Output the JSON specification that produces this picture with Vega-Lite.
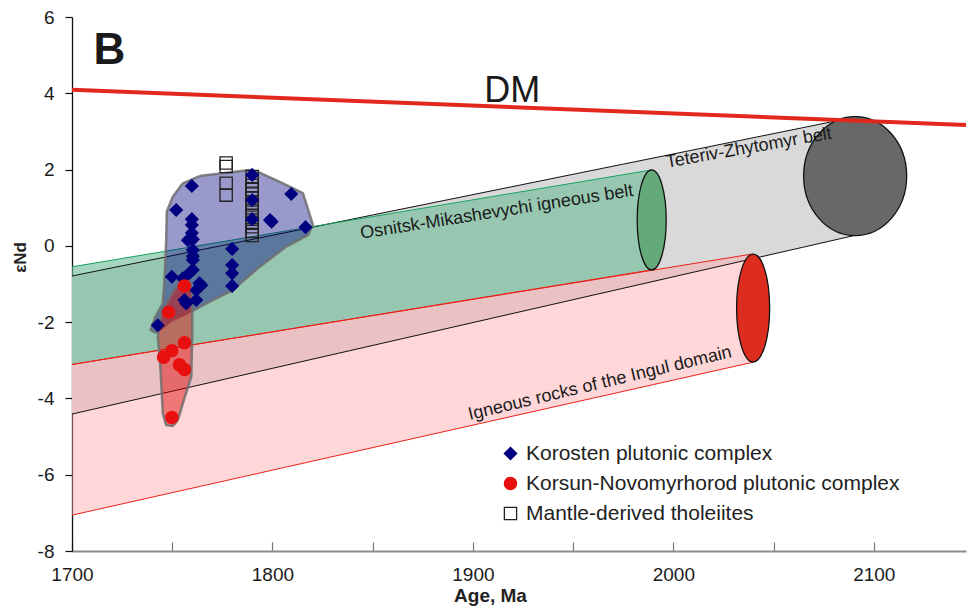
{
  "$schema": "https://vega.github.io/schema/vega-lite/v6.json",
  "width": 894,
  "height": 534,
  "autosize": {"type": "none"},
  "padding": {"left": 72, "top": 17, "right": 1, "bottom": 58},
  "background": "white",
  "config": {"view": {"stroke": null}, "font": "Liberation Sans"},
  "datasets": {
    "bands": [
      {"band": "Teteriv-Zhytomyr", "x": 1700, "top": -0.79, "bottom": -4.41},
      {"band": "Teteriv-Zhytomyr", "x": 2091, "top": 3.38, "bottom": 0.28},
      {"band": "Osnitsk-Mikashevychi", "x": 1700, "top": -0.55, "bottom": -3.11},
      {"band": "Osnitsk-Mikashevychi", "x": 1989.2, "top": 1.99, "bottom": -0.63},
      {"band": "Ingul", "x": 1700, "top": -3.11, "bottom": -7.06},
      {"band": "Ingul", "x": 2039.8, "top": -0.21, "bottom": -3.05}
    ],
    "ellipses": [
      {"name": "Osnitsk-Mikashevychi", "x": 1989.2, "y": 0.68},
      {"name": "Ingul", "x": 2039.8, "y": -1.63},
      {"name": "Teteriv-Zhytomyr", "x": 2090.7, "y": 1.83}
    ],
    "dm": [
      {"x": 1700, "y": 4.09},
      {"x": 2146, "y": 3.17}
    ],
    "hulls": [
      {"group": "Korosten", "i": 0, "x": 1763.6, "y": 1.83},
      {"group": "Korosten", "i": 1, "x": 1788.6, "y": 1.99},
      {"group": "Korosten", "i": 2, "x": 1793.6, "y": 1.92},
      {"group": "Korosten", "i": 3, "x": 1805.2, "y": 1.64},
      {"group": "Korosten", "i": 4, "x": 1815.2, "y": 1.38},
      {"group": "Korosten", "i": 5, "x": 1820.2, "y": 0.55},
      {"group": "Korosten", "i": 6, "x": 1817.7, "y": 0.28},
      {"group": "Korosten", "i": 7, "x": 1806.9, "y": -0.02},
      {"group": "Korosten", "i": 8, "x": 1792.7, "y": -0.59},
      {"group": "Korosten", "i": 9, "x": 1780.2, "y": -1.16},
      {"group": "Korosten", "i": 10, "x": 1770.3, "y": -1.42},
      {"group": "Korosten", "i": 11, "x": 1761.1, "y": -1.68},
      {"group": "Korosten", "i": 12, "x": 1750.3, "y": -1.94},
      {"group": "Korosten", "i": 13, "x": 1742.0, "y": -2.28},
      {"group": "Korosten", "i": 14, "x": 1739.2, "y": -2.21},
      {"group": "Korosten", "i": 15, "x": 1741.2, "y": -1.9},
      {"group": "Korosten", "i": 16, "x": 1745.3, "y": -1.51},
      {"group": "Korosten", "i": 17, "x": 1746.2, "y": -0.81},
      {"group": "Korosten", "i": 18, "x": 1747.0, "y": 0.15},
      {"group": "Korosten", "i": 19, "x": 1747.3, "y": 0.9},
      {"group": "Korosten", "i": 20, "x": 1750.3, "y": 1.29},
      {"group": "Korosten", "i": 21, "x": 1755.3, "y": 1.64},
      {"group": "Korosten", "i": 22, "x": 1763.6, "y": 1.83},
      {"group": "Korsun", "i": 0, "x": 1755.3, "y": -0.85},
      {"group": "Korsun", "i": 1, "x": 1758.6, "y": -0.94},
      {"group": "Korsun", "i": 2, "x": 1760.0, "y": -1.16},
      {"group": "Korsun", "i": 3, "x": 1760.0, "y": -2.38},
      {"group": "Korsun", "i": 4, "x": 1759.5, "y": -3.43},
      {"group": "Korsun", "i": 5, "x": 1755.3, "y": -4.13},
      {"group": "Korsun", "i": 6, "x": 1752.8, "y": -4.57},
      {"group": "Korsun", "i": 7, "x": 1750.3, "y": -4.72},
      {"group": "Korsun", "i": 8, "x": 1747.0, "y": -4.7},
      {"group": "Korsun", "i": 9, "x": 1745.3, "y": -4.39},
      {"group": "Korsun", "i": 10, "x": 1744.0, "y": -3.08},
      {"group": "Korsun", "i": 11, "x": 1742.8, "y": -2.38},
      {"group": "Korsun", "i": 12, "x": 1744.5, "y": -1.77},
      {"group": "Korsun", "i": 13, "x": 1750.3, "y": -1.2},
      {"group": "Korsun", "i": 14, "x": 1755.3, "y": -0.85}
    ],
    "samples": [
      {"series": "Mantle-derived tholeiites", "x": 1776.9, "y": 2.17},
      {"series": "Mantle-derived tholeiites", "x": 1776.9, "y": 2.08},
      {"series": "Mantle-derived tholeiites", "x": 1776.9, "y": 1.64},
      {"series": "Mantle-derived tholeiites", "x": 1776.9, "y": 1.33},
      {"series": "Mantle-derived tholeiites", "x": 1789.9, "y": 1.82},
      {"series": "Mantle-derived tholeiites", "x": 1789.9, "y": 1.7},
      {"series": "Mantle-derived tholeiites", "x": 1789.9, "y": 1.58},
      {"series": "Mantle-derived tholeiites", "x": 1789.9, "y": 1.48},
      {"series": "Mantle-derived tholeiites", "x": 1789.9, "y": 1.36},
      {"series": "Mantle-derived tholeiites", "x": 1789.9, "y": 1.25},
      {"series": "Mantle-derived tholeiites", "x": 1789.9, "y": 1.12},
      {"series": "Mantle-derived tholeiites", "x": 1789.9, "y": 1.0},
      {"series": "Mantle-derived tholeiites", "x": 1789.9, "y": 0.88},
      {"series": "Mantle-derived tholeiites", "x": 1789.9, "y": 0.75},
      {"series": "Mantle-derived tholeiites", "x": 1789.9, "y": 0.62},
      {"series": "Mantle-derived tholeiites", "x": 1789.9, "y": 0.5},
      {"series": "Mantle-derived tholeiites", "x": 1789.9, "y": 0.38},
      {"series": "Mantle-derived tholeiites", "x": 1789.9, "y": 0.27},
      {"series": "Korosten plutonic complex", "x": 1759.8, "y": 1.57},
      {"series": "Korosten plutonic complex", "x": 1752.0, "y": 0.94},
      {"series": "Korosten plutonic complex", "x": 1759.8, "y": 0.7},
      {"series": "Korosten plutonic complex", "x": 1759.8, "y": 0.55},
      {"series": "Korosten plutonic complex", "x": 1759.8, "y": 0.34},
      {"series": "Korosten plutonic complex", "x": 1757.8, "y": 0.15},
      {"series": "Korosten plutonic complex", "x": 1760.3, "y": 0.17},
      {"series": "Korosten plutonic complex", "x": 1760.3, "y": -0.11},
      {"series": "Korosten plutonic complex", "x": 1760.3, "y": -0.27},
      {"series": "Korosten plutonic complex", "x": 1760.3, "y": -0.37},
      {"series": "Korosten plutonic complex", "x": 1760.3, "y": -0.63},
      {"series": "Korosten plutonic complex", "x": 1758.6, "y": -0.71},
      {"series": "Korosten plutonic complex", "x": 1749.8, "y": -0.81},
      {"series": "Korosten plutonic complex", "x": 1755.3, "y": -0.85},
      {"series": "Korosten plutonic complex", "x": 1763.6, "y": -0.98},
      {"series": "Korosten plutonic complex", "x": 1764.5, "y": -1.03},
      {"series": "Korosten plutonic complex", "x": 1762.0, "y": -1.16},
      {"series": "Korosten plutonic complex", "x": 1762.0, "y": -1.42},
      {"series": "Korosten plutonic complex", "x": 1756.1, "y": -1.42},
      {"series": "Korosten plutonic complex", "x": 1757.0, "y": -1.51},
      {"series": "Korosten plutonic complex", "x": 1742.8, "y": -2.08},
      {"series": "Korosten plutonic complex", "x": 1779.9, "y": -0.08},
      {"series": "Korosten plutonic complex", "x": 1779.9, "y": -0.5},
      {"series": "Korosten plutonic complex", "x": 1779.9, "y": -0.72},
      {"series": "Korosten plutonic complex", "x": 1779.9, "y": -1.05},
      {"series": "Korosten plutonic complex", "x": 1789.9, "y": 1.86},
      {"series": "Korosten plutonic complex", "x": 1789.9, "y": 1.2},
      {"series": "Korosten plutonic complex", "x": 1789.9, "y": 0.7},
      {"series": "Korosten plutonic complex", "x": 1799.6, "y": 0.63},
      {"series": "Korosten plutonic complex", "x": 1798.8, "y": 0.68},
      {"series": "Korosten plutonic complex", "x": 1809.4, "y": 1.36},
      {"series": "Korosten plutonic complex", "x": 1816.5, "y": 0.49},
      {"series": "Korsun-Novomyrhorod plutonic complex", "x": 1756.1, "y": -1.05},
      {"series": "Korsun-Novomyrhorod plutonic complex", "x": 1748.2, "y": -1.74},
      {"series": "Korsun-Novomyrhorod plutonic complex", "x": 1756.1, "y": -2.54},
      {"series": "Korsun-Novomyrhorod plutonic complex", "x": 1749.8, "y": -2.75},
      {"series": "Korsun-Novomyrhorod plutonic complex", "x": 1745.7, "y": -2.92},
      {"series": "Korsun-Novomyrhorod plutonic complex", "x": 1753.6, "y": -3.12},
      {"series": "Korsun-Novomyrhorod plutonic complex", "x": 1756.1, "y": -3.24},
      {"series": "Korsun-Novomyrhorod plutonic complex", "x": 1749.8, "y": -4.5}
    ],
    "labels": [
      {"label": "B", "x": 1710.7, "y": 4.77},
      {"label": "DM", "x": 1919.6, "y": 3.77},
      {"label": "Osnitsk-Mikashevychi igneous belt", "x": 1912.3, "y": 0.75},
      {"label": "Teteriv-Zhytomyr belt", "x": 2038.1, "y": 2.43},
      {"label": "Igneous rocks of the Ingul domain", "x": 1964, "y": -3.74}
    ]
  },
  "layer": [
    {
      "data": {"name": "bands"},
      "transform": [{"filter": "datum.band === 'Teteriv-Zhytomyr'"}],
      "mark": {"type": "area", "color": "#d9d9d9", "opacity": 1},
      "encoding": {
        "x": {"field": "x", "type": "quantitative", "scale": {"domain": [1700, 2146], "nice": false, "zero": false},
          "axis": {"title": "Age, Ma", "titleFontSize": 19, "titleFontWeight": "bold", "titleColor": "#222", "titleX": 418, "titleY": 50, "titleBaseline": "alphabetic", "titleAlign": "center",
            "values": [1700, 1750, 1800, 1850, 1900, 1950, 2000, 2050, 2100],
            "labelExpr": "datum.value % 100 === 0 ? '' + datum.value : ''",
            "labelFontSize": 19, "labelColor": "#1a1a1a", "labelPadding": 23, "labelFlush": false, "labelOverlap": false,
            "tickSize": -9, "tickColor": "#777", "tickWidth": 1.2, "domainColor": "#8c8c8c", "domainWidth": 2, "grid": false}},
        "y": {"field": "top", "type": "quantitative", "scale": {"domain": [-8, 6], "nice": false, "zero": false},
          "axis": {"title": "εNd", "titleFontSize": 17, "titleFontWeight": "bold", "titleColor": "#222", "titleX": -47, "titleY": 240, "titleAngle": 270, "titleBaseline": "alphabetic", "titleAlign": "center",
            "values": [-8, -6, -4, -2, 0, 2, 4, 6], "labelExpr": "'' + datum.value",
            "labelFontSize": 19, "labelColor": "#1a1a1a", "labelPadding": 11, "labelFlush": false, "labelOverlap": false,
            "tickSize": 7, "tickColor": "#111", "tickWidth": 1.2, "domainColor": "#111", "domainWidth": 1.3, "grid": false}},
        "y2": {"field": "bottom"}
      }
    },
    {
      "data": {"name": "bands"},
      "transform": [{"filter": "datum.band === 'Osnitsk-Mikashevychi'"}],
      "mark": {"type": "area", "color": "#6dbb96", "fillOpacity": 0.6},
      "encoding": {
        "x": {"field": "x", "type": "quantitative", "scale": {"domain": [1700, 2146], "nice": false, "zero": false}},
        "y": {"field": "top", "type": "quantitative", "scale": {"domain": [-8, 6], "nice": false, "zero": false}},
        "y2": {"field": "bottom"}
      }
    },
    {
      "data": {"name": "bands"},
      "transform": [{"filter": "datum.band === 'Ingul'"}],
      "mark": {"type": "area", "color": "#ffa7a9", "fillOpacity": 0.45},
      "encoding": {
        "x": {"field": "x", "type": "quantitative", "scale": {"domain": [1700, 2146], "nice": false, "zero": false}},
        "y": {"field": "top", "type": "quantitative", "scale": {"domain": [-8, 6], "nice": false, "zero": false}},
        "y2": {"field": "bottom"}
      }
    },
    {
      "data": {"name": "bands"},
      "transform": [{"filter": "datum.band === 'Teteriv-Zhytomyr'"}],
      "mark": {"type": "line", "color": "#111", "strokeWidth": 1},
      "encoding": {
        "x": {"field": "x", "type": "quantitative", "scale": {"domain": [1700, 2146], "nice": false, "zero": false}},
        "y": {"field": "top", "type": "quantitative", "scale": {"domain": [-8, 6], "nice": false, "zero": false}}
      }
    },
    {
      "data": {"name": "bands"},
      "transform": [{"filter": "datum.band === 'Teteriv-Zhytomyr'"}],
      "mark": {"type": "line", "color": "#111", "strokeWidth": 1},
      "encoding": {
        "x": {"field": "x", "type": "quantitative", "scale": {"domain": [1700, 2146], "nice": false, "zero": false}},
        "y": {"field": "bottom", "type": "quantitative", "scale": {"domain": [-8, 6], "nice": false, "zero": false}}
      }
    },
    {
      "data": {"name": "bands"},
      "transform": [{"filter": "datum.band === 'Osnitsk-Mikashevychi'"}],
      "mark": {"type": "line", "color": "#12a35f", "strokeWidth": 1},
      "encoding": {
        "x": {"field": "x", "type": "quantitative", "scale": {"domain": [1700, 2146], "nice": false, "zero": false}},
        "y": {"field": "top", "type": "quantitative", "scale": {"domain": [-8, 6], "nice": false, "zero": false}}
      }
    },
    {
      "data": {"name": "bands"},
      "transform": [{"filter": "datum.band !== 'Teteriv-Zhytomyr'"}],
      "mark": {"type": "line", "color": "#e8231a", "strokeWidth": 1},
      "encoding": {
        "x": {"field": "x", "type": "quantitative", "scale": {"domain": [1700, 2146], "nice": false, "zero": false}},
        "y": {"field": "bottom", "type": "quantitative", "scale": {"domain": [-8, 6], "nice": false, "zero": false}},
        "detail": {"field": "band"}
      }
    },
    {
      "data": {"name": "bands"},
      "transform": [{"filter": "datum.band === 'Ingul'"}],
      "mark": {"type": "line", "color": "#e8231a", "strokeWidth": 1},
      "encoding": {
        "x": {"field": "x", "type": "quantitative", "scale": {"domain": [1700, 2146], "nice": false, "zero": false}},
        "y": {"field": "top", "type": "quantitative", "scale": {"domain": [-8, 6], "nice": false, "zero": false}}
      }
    },
    {
      "data": {"name": "ellipses"},
      "transform": [{"filter": "datum.name === 'Osnitsk-Mikashevychi'"}],
      "mark": {"type": "point", "shape": "M0,-1C0.16,-1,0.29,-0.552,0.29,0C0.29,0.552,0.16,1,0,1C-0.16,1,-0.29,0.552,-0.29,0C-0.29,-0.552,-0.16,-1,0,-1Z", "size": 10000, "filled": true, "fill": "#64aa78", "stroke": "#111", "strokeWidth": 1.3, "opacity": 1},
      "encoding": {
        "x": {"field": "x", "type": "quantitative", "scale": {"domain": [1700, 2146], "nice": false, "zero": false}},
        "y": {"field": "y", "type": "quantitative", "scale": {"domain": [-8, 6], "nice": false, "zero": false}}
      }
    },
    {
      "data": {"name": "ellipses"},
      "transform": [{"filter": "datum.name === 'Ingul'"}],
      "mark": {"type": "point", "shape": "M0,-1C0.169,-1,0.306,-0.552,0.306,0C0.306,0.552,0.169,1,0,1C-0.169,1,-0.306,0.552,-0.306,0C-0.306,-0.552,-0.169,-1,0,-1Z", "size": 11664, "filled": true, "fill": "#dc2d1e", "stroke": "#111", "strokeWidth": 1.3, "opacity": 1},
      "encoding": {
        "x": {"field": "x", "type": "quantitative", "scale": {"domain": [1700, 2146], "nice": false, "zero": false}},
        "y": {"field": "y", "type": "quantitative", "scale": {"domain": [-8, 6], "nice": false, "zero": false}}
      }
    },
    {
      "data": {"name": "ellipses"},
      "transform": [{"filter": "datum.name === 'Teteriv-Zhytomyr'"}],
      "mark": {"type": "point", "shape": "M0,-1C0.478,-1,0.866,-0.552,0.866,0C0.866,0.552,0.478,1,0,1C-0.478,1,-0.866,0.552,-0.866,0C-0.866,-0.552,-0.478,-1,0,-1Z", "size": 14161, "filled": true, "fill": "#686868", "stroke": "#111", "strokeWidth": 1.3, "opacity": 1},
      "encoding": {
        "x": {"field": "x", "type": "quantitative", "scale": {"domain": [1700, 2146], "nice": false, "zero": false}},
        "y": {"field": "y", "type": "quantitative", "scale": {"domain": [-8, 6], "nice": false, "zero": false}}
      }
    },
    {
      "mark": {"type": "rule", "color": "#ee1c12", "strokeWidth": 1.2},
      "encoding": {
        "y": {"datum": 0, "type": "quantitative", "scale": {"domain": [-8, 6], "nice": false, "zero": false}}
      }
    },
    {
      "mark": {"type": "rule", "color": "#9a9a9a", "strokeWidth": 2},
      "encoding": {
        "y": {"datum": 6, "type": "quantitative", "scale": {"domain": [-8, 6], "nice": false, "zero": false}}
      }
    },
    {
      "data": {"name": "dm"},
      "mark": {"type": "line", "color": "#e0281c", "strokeWidth": 4},
      "encoding": {
        "x": {"field": "x", "type": "quantitative", "scale": {"domain": [1700, 2146], "nice": false, "zero": false}},
        "y": {"field": "y", "type": "quantitative", "scale": {"domain": [-8, 6], "nice": false, "zero": false}}
      }
    },
    {
      "data": {"name": "hulls"},
      "transform": [{"filter": "datum.group === 'Korosten'"}],
      "mark": {"type": "line", "fill": "#000080", "fillOpacity": 0.4, "stroke": "#6e6e6e", "strokeWidth": 2.5, "strokeOpacity": 0.85, "strokeJoin": "round"},
      "encoding": {
        "x": {"field": "x", "type": "quantitative", "scale": {"domain": [1700, 2146], "nice": false, "zero": false}},
        "y": {"field": "y", "type": "quantitative", "scale": {"domain": [-8, 6], "nice": false, "zero": false}},
        "order": {"field": "i", "type": "quantitative"}
      }
    },
    {
      "data": {"name": "hulls"},
      "transform": [{"filter": "datum.group === 'Korsun'"}],
      "mark": {"type": "line", "fill": "#e00000", "fillOpacity": 0.45, "stroke": "#6e6e6e", "strokeWidth": 2.5, "strokeOpacity": 0.85, "strokeJoin": "round"},
      "encoding": {
        "x": {"field": "x", "type": "quantitative", "scale": {"domain": [1700, 2146], "nice": false, "zero": false}},
        "y": {"field": "y", "type": "quantitative", "scale": {"domain": [-8, 6], "nice": false, "zero": false}},
        "order": {"field": "i", "type": "quantitative"}
      }
    },
    {
      "data": {"name": "samples"},
      "mark": {"type": "point", "size": 150, "strokeWidth": 1.3, "opacity": 1},
      "encoding": {
        "x": {"field": "x", "type": "quantitative", "scale": {"domain": [1700, 2146], "nice": false, "zero": false}},
        "y": {"field": "y", "type": "quantitative", "scale": {"domain": [-8, 6], "nice": false, "zero": false}},
        "shape": {"field": "series", "type": "nominal",
          "scale": {"domain": ["Korosten plutonic complex", "Korsun-Novomyrhorod plutonic complex", "Mantle-derived tholeiites"], "range": ["diamond", "circle", "square"]},
          "legend": {"orient": "none", "legendX": 428, "legendY": 426, "title": null, "labelFontSize": 21, "labelColor": "#222", "labelLimit": 500, "symbolSize": 150, "rowPadding": 8, "labelOffset": 5, "symbolStrokeWidth": 1.3, "padding": 0}},
        "fill": {"field": "series", "type": "nominal",
          "scale": {"domain": ["Korosten plutonic complex", "Korsun-Novomyrhorod plutonic complex", "Mantle-derived tholeiites"], "range": ["#000080", "#e8100f", "transparent"]},
          "legend": {"orient": "none", "legendX": 428, "legendY": 426, "title": null, "labelFontSize": 21, "labelColor": "#222", "labelLimit": 500, "symbolSize": 150, "rowPadding": 8, "labelOffset": 5, "symbolStrokeWidth": 1.3, "padding": 0}},
        "stroke": {"field": "series", "type": "nominal",
          "scale": {"domain": ["Korosten plutonic complex", "Korsun-Novomyrhorod plutonic complex", "Mantle-derived tholeiites"], "range": ["#000080", "#e8100f", "#222222"]},
          "legend": {"orient": "none", "legendX": 428, "legendY": 426, "title": null, "labelFontSize": 21, "labelColor": "#222", "labelLimit": 500, "symbolSize": 150, "rowPadding": 8, "labelOffset": 5, "symbolStrokeWidth": 1.3, "padding": 0}}
      }
    },
    {
      "data": {"name": "labels"},
      "transform": [{"filter": "datum.label === 'B'"}],
      "mark": {"type": "text", "fontSize": 44, "fontWeight": "bold", "color": "#1a1a1a", "align": "left", "baseline": "alphabetic"},
      "encoding": {
        "x": {"field": "x", "type": "quantitative", "scale": {"domain": [1700, 2146], "nice": false, "zero": false}},
        "y": {"field": "y", "type": "quantitative", "scale": {"domain": [-8, 6], "nice": false, "zero": false}},
        "text": {"field": "label"}
      }
    },
    {
      "data": {"name": "labels"},
      "transform": [{"filter": "datum.label === 'DM'"}],
      "mark": {"type": "text", "fontSize": 36, "color": "#1a1a1a", "align": "center", "baseline": "alphabetic"},
      "encoding": {
        "x": {"field": "x", "type": "quantitative", "scale": {"domain": [1700, 2146], "nice": false, "zero": false}},
        "y": {"field": "y", "type": "quantitative", "scale": {"domain": [-8, 6], "nice": false, "zero": false}},
        "text": {"field": "label"}
      }
    },
    {
      "data": {"name": "labels"},
      "transform": [{"filter": "datum.label === 'Osnitsk-Mikashevychi igneous belt'"}],
      "mark": {"type": "text", "fontSize": 18, "color": "#1a1a1a", "align": "center", "baseline": "alphabetic", "angle": 351},
      "encoding": {
        "x": {"field": "x", "type": "quantitative", "scale": {"domain": [1700, 2146], "nice": false, "zero": false}},
        "y": {"field": "y", "type": "quantitative", "scale": {"domain": [-8, 6], "nice": false, "zero": false}},
        "text": {"field": "label"}
      }
    },
    {
      "data": {"name": "labels"},
      "transform": [{"filter": "datum.label === 'Teteriv-Zhytomyr belt'"}],
      "mark": {"type": "text", "fontSize": 18, "color": "#1a1a1a", "align": "center", "baseline": "alphabetic", "angle": 350},
      "encoding": {
        "x": {"field": "x", "type": "quantitative", "scale": {"domain": [1700, 2146], "nice": false, "zero": false}},
        "y": {"field": "y", "type": "quantitative", "scale": {"domain": [-8, 6], "nice": false, "zero": false}},
        "text": {"field": "label"}
      }
    },
    {
      "data": {"name": "labels"},
      "transform": [{"filter": "datum.label === 'Igneous rocks of the Ingul domain'"}],
      "mark": {"type": "text", "fontSize": 18, "color": "#1a1a1a", "align": "center", "baseline": "alphabetic", "angle": 346.5},
      "encoding": {
        "x": {"field": "x", "type": "quantitative", "scale": {"domain": [1700, 2146], "nice": false, "zero": false}},
        "y": {"field": "y", "type": "quantitative", "scale": {"domain": [-8, 6], "nice": false, "zero": false}},
        "text": {"field": "label"}
      }
    }
  ]
}
